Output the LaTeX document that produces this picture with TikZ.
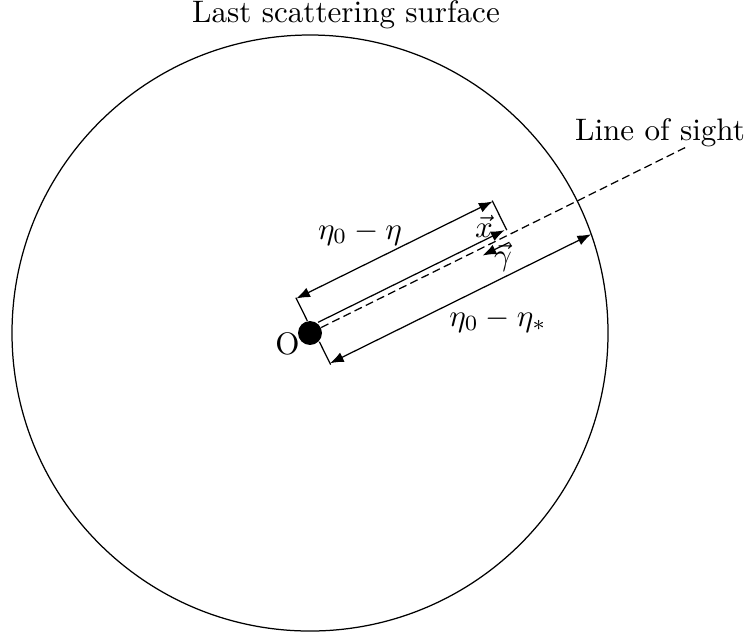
\documentclass[tikz,border=0pt]{standalone}
\usetikzlibrary{arrows.meta}
\begin{document}
\begin{tikzpicture}[x=0.3217pt,y=-0.3217pt,
  thinline/.style={line width=0.4pt},
  tip/.style={-{Latex[length=4.4pt,width=3.3pt]}},
  dimline/.style={{Latex[length=4.4pt,width=3.3pt]}-{Latex[length=4.4pt,width=3.3pt]}},
  losline/.style={dash pattern=on 2.6pt off 1.4pt},
  lbl/.style={inner sep=0pt}]
\useasboundingbox (0,0) rectangle (750,637);
\coordinate (C) at (310,333);
\draw[thinline] (C) circle[radius=298];
\begin{scope}[shift={(310,333)}, rotate=26.3]
  \coordinate (los) at (420,0);
  \coordinate (xs) at (12,-6);
  \coordinate (xe) at (220,-6);
  \coordinate (e1a) at (3,-12);
  \coordinate (e1b) at (3,-38);
  \coordinate (e2a) at (222,-5);
  \coordinate (e2b) at (222,-38);
  \coordinate (d1a) at (3,-37);
  \coordinate (d1b) at (222,-37);
  \coordinate (gs) at (219,7);
  \coordinate (ge) at (189,7);
  \coordinate (e3a) at (4.5,12);
  \coordinate (e3b) at (4.5,37.5);
  \coordinate (d2a) at (4.5,36);
  \coordinate (d2b) at (295.8,36);
\end{scope}
\draw[thinline,losline] (C) -- (los);
\draw[thinline,tip] (xs) -- (xe);
\draw[thinline] (e1a) -- (e1b);
\draw[thinline] (e2a) -- (e2b);
\draw[thinline,dimline] (d1a) -- (d1b);
\draw[thinline,tip] (gs) -- (ge);
\draw[thinline] (e3a) -- (e3b);
\draw[thinline,dimline] (d2a) -- (d2b);
\node[circle,fill=black,minimum size=7.7pt,inner sep=0pt] (O) at (C) {};
\node[lbl] (Olbl) at (287.5,344) {O};
\node[lbl] (xl) at (484,226) {$\vec{x}$};
\node[lbl] (gl) at (503,257) {$\vec{\gamma}$};
\node[lbl] (d1l) at (360,233) {$\eta_0-\eta$};
\node[lbl] (d2l) at (498,320) {$\eta_0-\eta_*$};
\node[lbl] (losl) at (660,133) {Line of sight};
\node[lbl] (lss) at (346,15) {Last scattering surface};
\end{tikzpicture}
\end{document}
